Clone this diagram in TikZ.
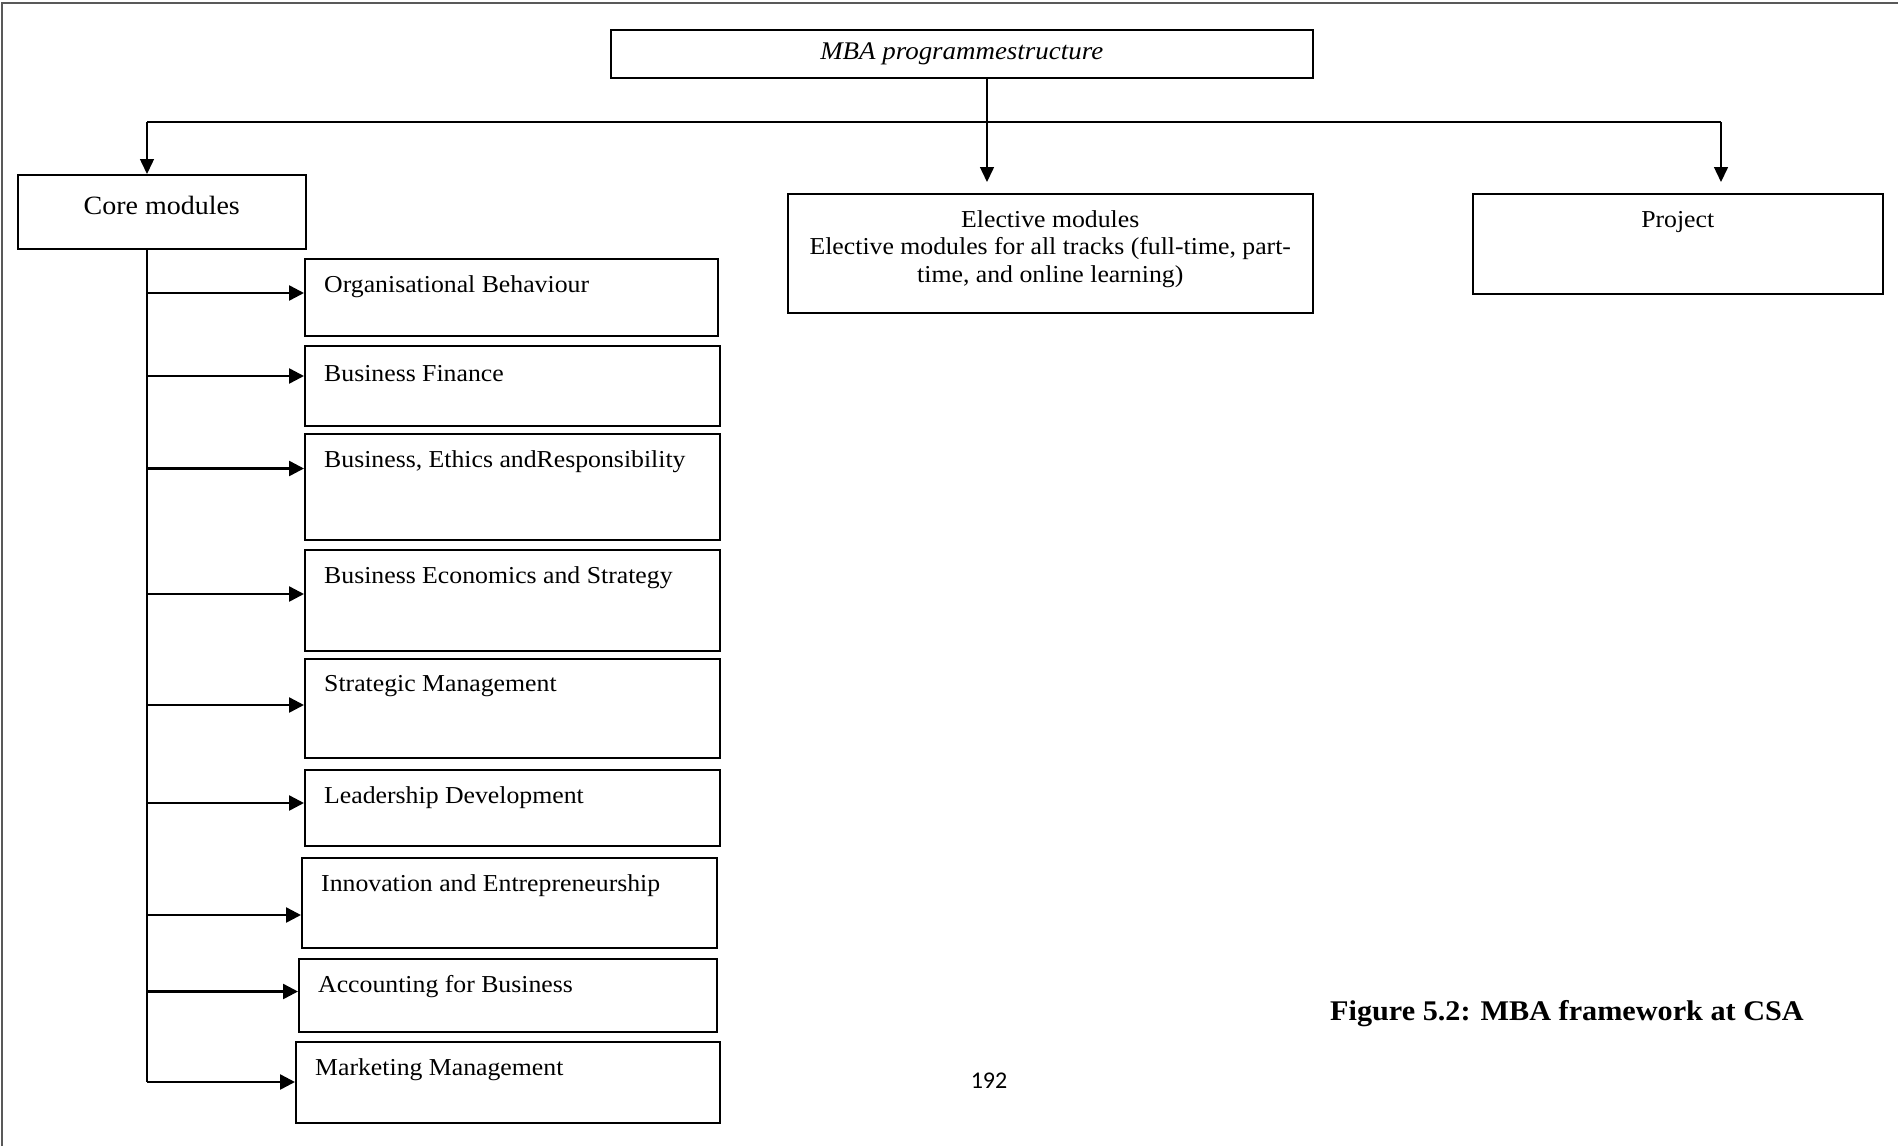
\documentclass[tikz,border=0pt]{standalone}
\usepackage{fontspec}
\setmainfont{Liberation Serif}[FakeStretch=1.06]
\newfontfamily\pagenumfont{Carlito}
\usetikzlibrary{arrows.meta,calc}
\begin{document}
\begin{tikzpicture}[x=1pt,y=-1pt,
  box/.style={draw, line width=1.5pt, anchor=north west, inner sep=0pt},
  modtext/.style={anchor=west, inner sep=0pt, font=\fontsize{24.3}{27.5}\selectfont},
  headtext/.style={inner sep=0pt, align=center, font=\fontsize{24.3}{27.5}\selectfont},
  thinline/.style={line width=1.5pt},
  thinarrow/.style={line width=1.5pt, -{Triangle[length=15pt,width=14pt]}},
  trunk/.style={line width=2pt},
  modarrow/.style={line width=2.5pt, -{Triangle[length=15pt,width=15pt]}},
  frameline/.style={line width=1.5pt, draw=black!65}
]
\useasboundingbox (0,0) rectangle (1898,1146);

% page frame (top and left edges)
\draw[frameline] (2,1146) -- (2,3) -- (1898,3);

% top level
\node[box, minimum width=702pt, minimum height=48pt] (mba) at (610,29) {};
\node[headtext, font=\itshape\fontsize{25.4}{28}\selectfont] (mbat) at (mba.center) {MBA programmestructure};

\node[box, minimum width=288pt, minimum height=74pt] (core) at (17,174) {};
\node[headtext, font=\fontsize{26.4}{30}\selectfont] (coret) at ($(core.north)+(0,31)$) {Core modules};

\node[box, minimum width=525pt, minimum height=119pt] (elec) at (787,193) {};
\node[headtext] (elect) at ($(elec.north)+(0,56)$) {Elective modules\\Elective modules for all tracks (full-time, part-\\time, and online learning)};

\node[box, minimum width=410pt, minimum height=100pt] (proj) at (1472,193) {};
\node[headtext] (projt) at ($(proj.north)+(0,29)$) {Project};

% core module boxes
\node[box, minimum width=413pt, minimum height=77pt] (m1) at (304,258) {};
\node[box, minimum width=415pt, minimum height=80pt] (m2) at (304,345) {};
\node[box, minimum width=415pt, minimum height=106pt] (m3) at (304,433) {};
\node[box, minimum width=415pt, minimum height=101pt] (m4) at (304,549) {};
\node[box, minimum width=415pt, minimum height=99pt] (m5) at (304,658) {};
\node[box, minimum width=415pt, minimum height=76pt] (m6) at (304,769) {};
\node[box, minimum width=415pt, minimum height=90pt] (m7) at (301,857) {};
\node[box, minimum width=418pt, minimum height=73pt] (m8) at (298,958) {};
\node[box, minimum width=424pt, minimum height=81pt] (m9) at (295,1041) {};

\node[modtext] (t1) at ($(m1.north west)+(20,28.5)$) {Organisational Behaviour};
\node[modtext] (t2) at ($(m2.north west)+(20,28.5)$) {Business Finance};
\node[modtext] (t3) at ($(m3.north west)+(20,28.5)$) {Business, Ethics andResponsibility};
\node[modtext] (t4) at ($(m4.north west)+(20,28.5)$) {Business Economics and Strategy};
\node[modtext] (t5) at ($(m5.north west)+(20,28.5)$) {Strategic Management};
\node[modtext] (t6) at ($(m6.north west)+(20,28.5)$) {Leadership Development};
\node[modtext] (t7) at ($(m7.north west)+(20,28.5)$) {Innovation and Entrepreneurship};
\node[modtext] (t8) at ($(m8.north west)+(20,28.5)$) {Accounting for Business};
\node[modtext] (t9) at ($(m9.north west)+(20,28.5)$) {Marketing Management};

% distribution bar and drops
\coordinate (hl) at (147,122);
\coordinate (hr) at (1721,122);
\coordinate (drop) at (987,122);
\draw[thinline] (hl) -- (hr);
\draw[thinarrow] (hl) -- (hl |- core.north);
\draw[thinarrow, shorten >=11pt] (hr) -- (hr |- proj.north);
\draw[thinarrow, shorten >=11pt] (mba.south -| drop) -- (elec.north -| drop);

% trunk with branches to each core module
\coordinate (a1) at (147,293);
\coordinate (a2) at (147,376);
\coordinate (a3) at (147,468.5);
\coordinate (a4) at (147,594);
\coordinate (a5) at (147,705);
\coordinate (a6) at (147,803);
\coordinate (a7) at (147,915);
\coordinate (a8) at (147,991.5);
\coordinate (a9) at (147,1082);
\draw[trunk] (core.south -| hl) -- (a9);
\foreach \i in {1,...,9}{
  \draw[modarrow] (a\i) -- (a\i -| m\i.west);
}

% caption and page number
\node[anchor=west, inner sep=0pt, font=\bfseries\fontsize{28.5}{32}\selectfont] (cap) at (1330,1014) {Figure 5.2: MBA framework at CSA};
\node[inner sep=0pt, font=\pagenumfont\fontsize{24}{28}\selectfont] (pg) at (989,1081) {192};
\end{tikzpicture}
\end{document}
